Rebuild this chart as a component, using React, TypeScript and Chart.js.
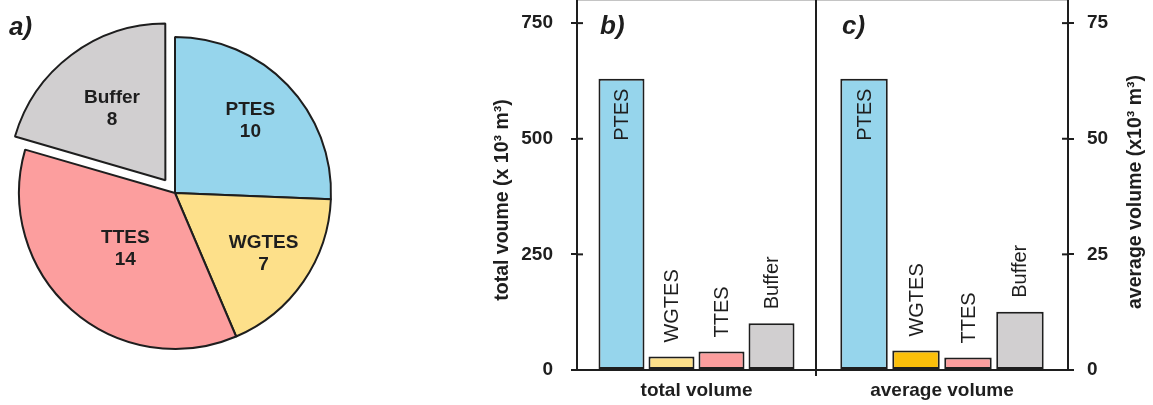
import React, { useEffect, useRef } from "react";
import { Chart, registerables } from "chart.js";

Chart.register(...registerables);

// ---------- data ----------
const categories = ["PTES", "WGTES", "TTES", "Buffer"];
const pieCounts = [10, 7, 14, 8];
const totalVolume = [630, 29, 40, 101];
const averageVolume = [63, 4.2, 2.7, 12.6];
const totalTicks = [0, 250, 500, 750];
const averageTicks = [0, 25, 50, 75];
const panelLabels = ["a)", "b)", "c)"];
const totalGroup = ["total volume"];
const averageGroup = ["average volume"];
const totalAxisTitle = "total voume (x 10³ m³)";
const averageAxisTitle = "average volume (x10³ m³)";

// ---------- style ----------
const pieColors = ["#96d5ec", "#fde08a", "#fc9e9e", "#d1cfd0"];
const totalColors = ["#96d5ec", "#fde08a", "#fc9e9e", "#d1cfd0"];
const averageColors = ["#96d5ec", "#fbbf0a", "#fc9e9e", "#d1cfd0"];
// Chart.js arcs move by offset / 4 px
const pieOffsets = [0, 0, 0, 64];
const pieLabelFrac = [0.67, 0.69, 0.48, 0.57];
const INK = "#1e1e1e";
const FONT = "'Liberation Sans', Arial, Helvetica, sans-serif";

Chart.defaults.font.family = FONT;

const piePlugin = {
  id: "pieLabels",
  afterDatasetsDraw(chart: any) {
    const ctx = chart.ctx;
    const meta = chart.getDatasetMeta(0);
    ctx.save();
    ctx.fillStyle = INK;
    ctx.font = `bold 19px ${FONT}`;
    ctx.textAlign = "center";
    ctx.textBaseline = "middle";
    meta.data.forEach((arc: any, i: number) => {
      const { x, y, startAngle, endAngle, outerRadius } = arc.getProps(
        ["x", "y", "startAngle", "endAngle", "outerRadius"],
        true
      );
      const mid = (startAngle + endAngle) / 2;
      const off = (arc.options.offset || 0) / 4;
      const r = outerRadius * pieLabelFrac[i] + off;
      const lx = x + Math.cos(mid) * r;
      const ly = y + Math.sin(mid) * r;
      ctx.fillText(categories[i], lx, ly - 11);
      ctx.fillText(String(pieCounts[i]), lx, ly + 11);
    });
    ctx.font = `italic bold 26px ${FONT}`;
    ctx.textAlign = "left";
    ctx.fillText(panelLabels[0], 9, 28);
    ctx.restore();
  },
};

function makeBarPlugin(opts: {
  panel: string;
  panelX: number;
  axisTitle: string;
  titleX: number;
  titleY: number;
  side: "left" | "right";
  divider: boolean;
}) {
  return {
    id: "barDecor" + opts.panel,
    afterDraw(chart: any) {
      const ctx = chart.ctx;
      const a = chart.chartArea;
      const ys = chart.scales.y;
      ctx.save();
      // thin top edge
      ctx.strokeStyle = "#c4c4c4";
      ctx.lineWidth = 1;
      ctx.beginPath();
      ctx.moveTo(a.left, a.top + 0.5);
      ctx.lineTo(a.right, a.top + 0.5);
      ctx.stroke();
      ctx.strokeStyle = INK;
      ctx.lineWidth = 2;
      ctx.lineCap = "butt";
      // side frame lines
      ctx.beginPath();
      ctx.moveTo(a.left, a.bottom);
      ctx.lineTo(a.left, a.top);
      ctx.moveTo(a.right, a.top);
      ctx.lineTo(a.right, a.bottom);
      ctx.stroke();
      // inner half of cross ticks
      ys.ticks.forEach((t: any) => {
        const py = ys.getPixelForValue(t.value);
        ctx.beginPath();
        if (opts.side === "left") {
          ctx.moveTo(a.left, py);
          ctx.lineTo(a.left + 6, py);
        } else {
          ctx.moveTo(a.right - 6, py);
          ctx.lineTo(a.right, py);
        }
        ctx.stroke();
      });
      if (opts.divider) {
        ctx.beginPath();
        ctx.moveTo(a.right, a.bottom);
        ctx.lineTo(a.right, a.bottom + 6);
        ctx.stroke();
      }
      // bar labels
      ctx.fillStyle = INK;
      ctx.font = `20px ${FONT}`;
      ctx.textBaseline = "middle";
      chart.data.datasets.forEach((ds: any, i: number) => {
        const bar = chart.getDatasetMeta(i).data[0];
        if (!bar) return;
        const { x, y, base } = bar.getProps(["x", "y", "base"], true);
        ctx.save();
        if (base - y > 120) {
          ctx.translate(x, y + 10);
          ctx.rotate(-Math.PI / 2);
          ctx.textAlign = "right";
        } else {
          ctx.translate(x, y - 14);
          ctx.rotate(-Math.PI / 2);
          ctx.textAlign = "left";
        }
        ctx.fillText(ds.label, 0, 1);
        ctx.restore();
      });
      // panel label
      ctx.font = `italic bold 26px ${FONT}`;
      ctx.textAlign = "left";
      ctx.fillText(opts.panel, opts.panelX, 27);
      // axis title
      ctx.save();
      ctx.translate(opts.titleX, opts.titleY);
      ctx.rotate(-Math.PI / 2);
      ctx.textAlign = "center";
      ctx.font = `bold 19.5px ${FONT}`;
      ctx.fillText(opts.axisTitle, 0, 0);
      ctx.restore();
      ctx.restore();
    },
  };
}

function barConfig(
  group: string[],
  values: number[],
  colors: string[],
  ticks: number[],
  max: number,
  side: "left" | "right",
  catPct: number,
  barPct: number,
  axisWidth: number,
  tickPad: number,
  padding: any,
  plugin: any
) {
  return {
    type: "bar" as const,
    data: {
      labels: group,
      datasets: categories.map((c, i) => ({
        label: c,
        data: [values[i]],
        backgroundColor: colors[i],
        borderColor: INK,
        borderWidth: 2,
        borderSkipped: false,
        categoryPercentage: catPct,
        barPercentage: barPct,
      })),
    },
    options: {
      animation: false,
      responsive: false,
      maintainAspectRatio: false,
      layout: { padding },
      plugins: { legend: { display: false }, tooltip: { enabled: false } },
      scales: {
        x: {
          position: "bottom",
          grid: { display: false, drawTicks: false },
          border: { display: true, color: INK, width: 2 },
          ticks: {
            color: INK,
            padding: 9,
            font: { family: FONT, size: 19, weight: "bold" },
          },
          afterFit: (s: any) => {
            s.height = 35;
            s.paddingLeft = 0;
            s.paddingRight = 0;
          },
        },
        y: {
          position: side,
          min: 0,
          max,
          afterBuildTicks: (s: any) => {
            s.ticks = ticks.map((v) => ({ value: v }));
          },
          grid: {
            display: true,
            drawOnChartArea: false,
            drawTicks: true,
            tickLength: 6,
            color: INK,
            lineWidth: 2,
          },
          border: { display: true, color: INK, width: 2 },
          ticks: {
            color: INK,
            padding: tickPad,
            font: { family: FONT, size: 19, weight: "bold" },
          },
          afterFit: (s: any) => {
            s.width = axisWidth;
            s.paddingTop = 0;
            s.paddingBottom = 0;
          },
        },
      },
    },
    plugins: [plugin],
  };
}

export default function App() {
  const pieRef = useRef<HTMLCanvasElement>(null);
  const bRef = useRef<HTMLCanvasElement>(null);
  const cRef = useRef<HTMLCanvasElement>(null);

  useEffect(() => {
    const pie = new Chart(pieRef.current as HTMLCanvasElement, {
      type: "pie",
      data: {
        labels: categories,
        datasets: [
          {
            data: pieCounts,
            backgroundColor: pieColors,
            borderColor: INK,
            borderWidth: 2,
            offset: pieOffsets,
          } as any,
        ],
      },
      options: {
        animation: false,
        responsive: false,
        maintainAspectRatio: false,
        radius: 156,
        layout: { padding: 0 },
        plugins: { legend: { display: false }, tooltip: { enabled: false } },
      } as any,
      plugins: [piePlugin],
    });

    const b = new Chart(
      bRef.current as HTMLCanvasElement,
      barConfig(
        totalGroup,
        totalVolume,
        totalColors,
        totalTicks,
        800,
        "left",
        0.837,
        0.92,
        87,
        18,
        { left: 0, right: 4, top: 0, bottom: 0 },
        makeBarPlugin({
          panel: panelLabels[1],
          panelX: 110,
          axisTitle: totalAxisTitle,
          titleX: 13,
          titleY: 200,
          side: "left",
          divider: true,
        })
      ) as any
    );

    const c = new Chart(
      cRef.current as HTMLCanvasElement,
      barConfig(
        averageGroup,
        averageVolume,
        averageColors,
        averageTicks,
        80,
        "right",
        0.825,
        0.913,
        85,
        13,
        { left: 0, right: 0, top: 0, bottom: 0 },
        makeBarPlugin({
          panel: panelLabels[2],
          panelX: 26,
          axisTitle: averageAxisTitle,
          titleX: 320,
          titleY: 192,
          side: "right",
          divider: false,
        })
      ) as any
    );

    return () => {
      pie.destroy();
      b.destroy();
      c.destroy();
    };
  }, []);

  return (
    <div
      style={{
        position: "fixed",
        left: 0,
        top: 0,
        width: 1153,
        height: 405,
        background: "#ffffff",
        overflow: "hidden",
      }}
    >
      <canvas
        ref={pieRef}
        width={350}
        height={386}
        style={{ position: "absolute", left: 0, top: 0, width: 350, height: 386 }}
      />
      <canvas
        ref={bRef}
        width={330}
        height={405}
        style={{ position: "absolute", left: 490, top: 0, width: 330, height: 405 }}
      />
      <canvas
        ref={cRef}
        width={337}
        height={405}
        style={{ position: "absolute", left: 816, top: 0, width: 337, height: 405 }}
      />
    </div>
  );
}
